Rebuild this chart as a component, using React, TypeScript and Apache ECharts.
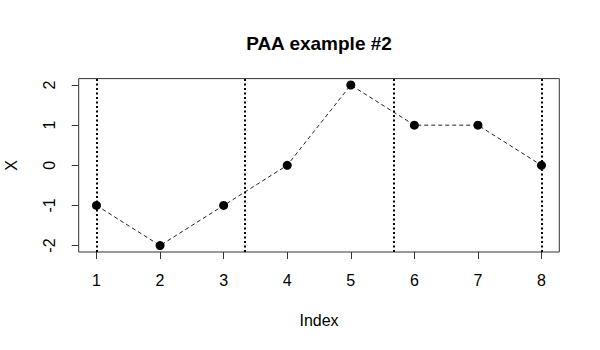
import React, { useEffect, useRef } from "react";
import * as echarts from "echarts";

const indexValues = [1, 2, 3, 4, 5, 6, 7, 8];
const xValues = [-1, -2, -1, 0, 2, 1, 1, 0];
const segmentBreaks = [1, 3.333, 5.667, 8];
const xTicks = [1, 2, 3, 4, 5, 6, 7, 8];
const yTicks = [-2, -1, 0, 1, 2];
const titleText = "PAA example #2";

const FONT = "'Liberation Sans', Arial, Helvetica, sans-serif";

export default function App() {
  const ref = useRef<HTMLDivElement>(null);
  useEffect(() => {
    if (!ref.current) return;
    const chart = echarts.init(ref.current, undefined, { renderer: "svg" });
    chart.setOption({
      animation: false,
      backgroundColor: "#ffffff",
      graphic: [
        {
          type: "text",
          x: 319,
          y: 43,
          style: {
            text: titleText,
            align: "center",
            verticalAlign: "middle",
            fontFamily: FONT,
            fontSize: 19,
            fontWeight: "bold",
            fill: "#000",
          },
        },
      ],
      grid: {
        left: 78.7,
        top: 78.6,
        width: 480.6,
        height: 173.4,
        containLabel: false,
        outerBoundsMode: "none",
        show: true,
        borderColor: "#333",
        borderWidth: 1,
        backgroundColor: "transparent",
      },
      xAxis: {
        type: "value",
        min: 0.72,
        max: 8.28,
        name: "Index",
        nameLocation: "middle",
        nameGap: 60,
        nameTextStyle: { fontFamily: FONT, fontSize: 16, color: "#000" },
        axisLine: { show: false, onZero: false },
        splitLine: { show: false },
        axisTick: { show: true, inside: false, length: 7, customValues: xTicks, lineStyle: { color: "#333" } },
        axisLabel: { customValues: xTicks, margin: 20, fontFamily: FONT, fontSize: 16, color: "#000" },
      },
      yAxis: {
        type: "value",
        min: -2.16,
        max: 2.16,
        name: "X",
        nameLocation: "middle",
        nameRotate: 90,
        nameGap: 59,
        nameTextStyle: { fontFamily: FONT, fontSize: 16, color: "#000" },
        axisLine: { show: false, onZero: false },
        splitLine: { show: false },
        axisTick: { show: true, inside: false, length: 7, customValues: yTicks, lineStyle: { color: "#333" } },
        axisLabel: { customValues: yTicks, rotate: 90, margin: 21, fontFamily: FONT, fontSize: 16, color: "#000" },
      },
      series: [
        {
          type: "line",
          data: indexValues.map((x, i) => [x, xValues[i]]),
          symbol: "circle",
          symbolSize: 9,
          itemStyle: { color: "#000" },
          lineStyle: { color: "#222", width: 1, type: [4, 3] },
          z: 3,
          markLine: {
            silent: true,
            symbol: "none",
            label: { show: false },
            lineStyle: { color: "#000", width: 2, type: [2, 2.5] },
            data: segmentBreaks.map((b) => ({ xAxis: b })),
          },
        },
      ],
    });
    return () => chart.dispose();
  }, []);
  return (
    <div
      ref={ref}
      style={{ position: "absolute", left: 0, top: 0, width: 600, height: 350 }}
    />
  );
}
